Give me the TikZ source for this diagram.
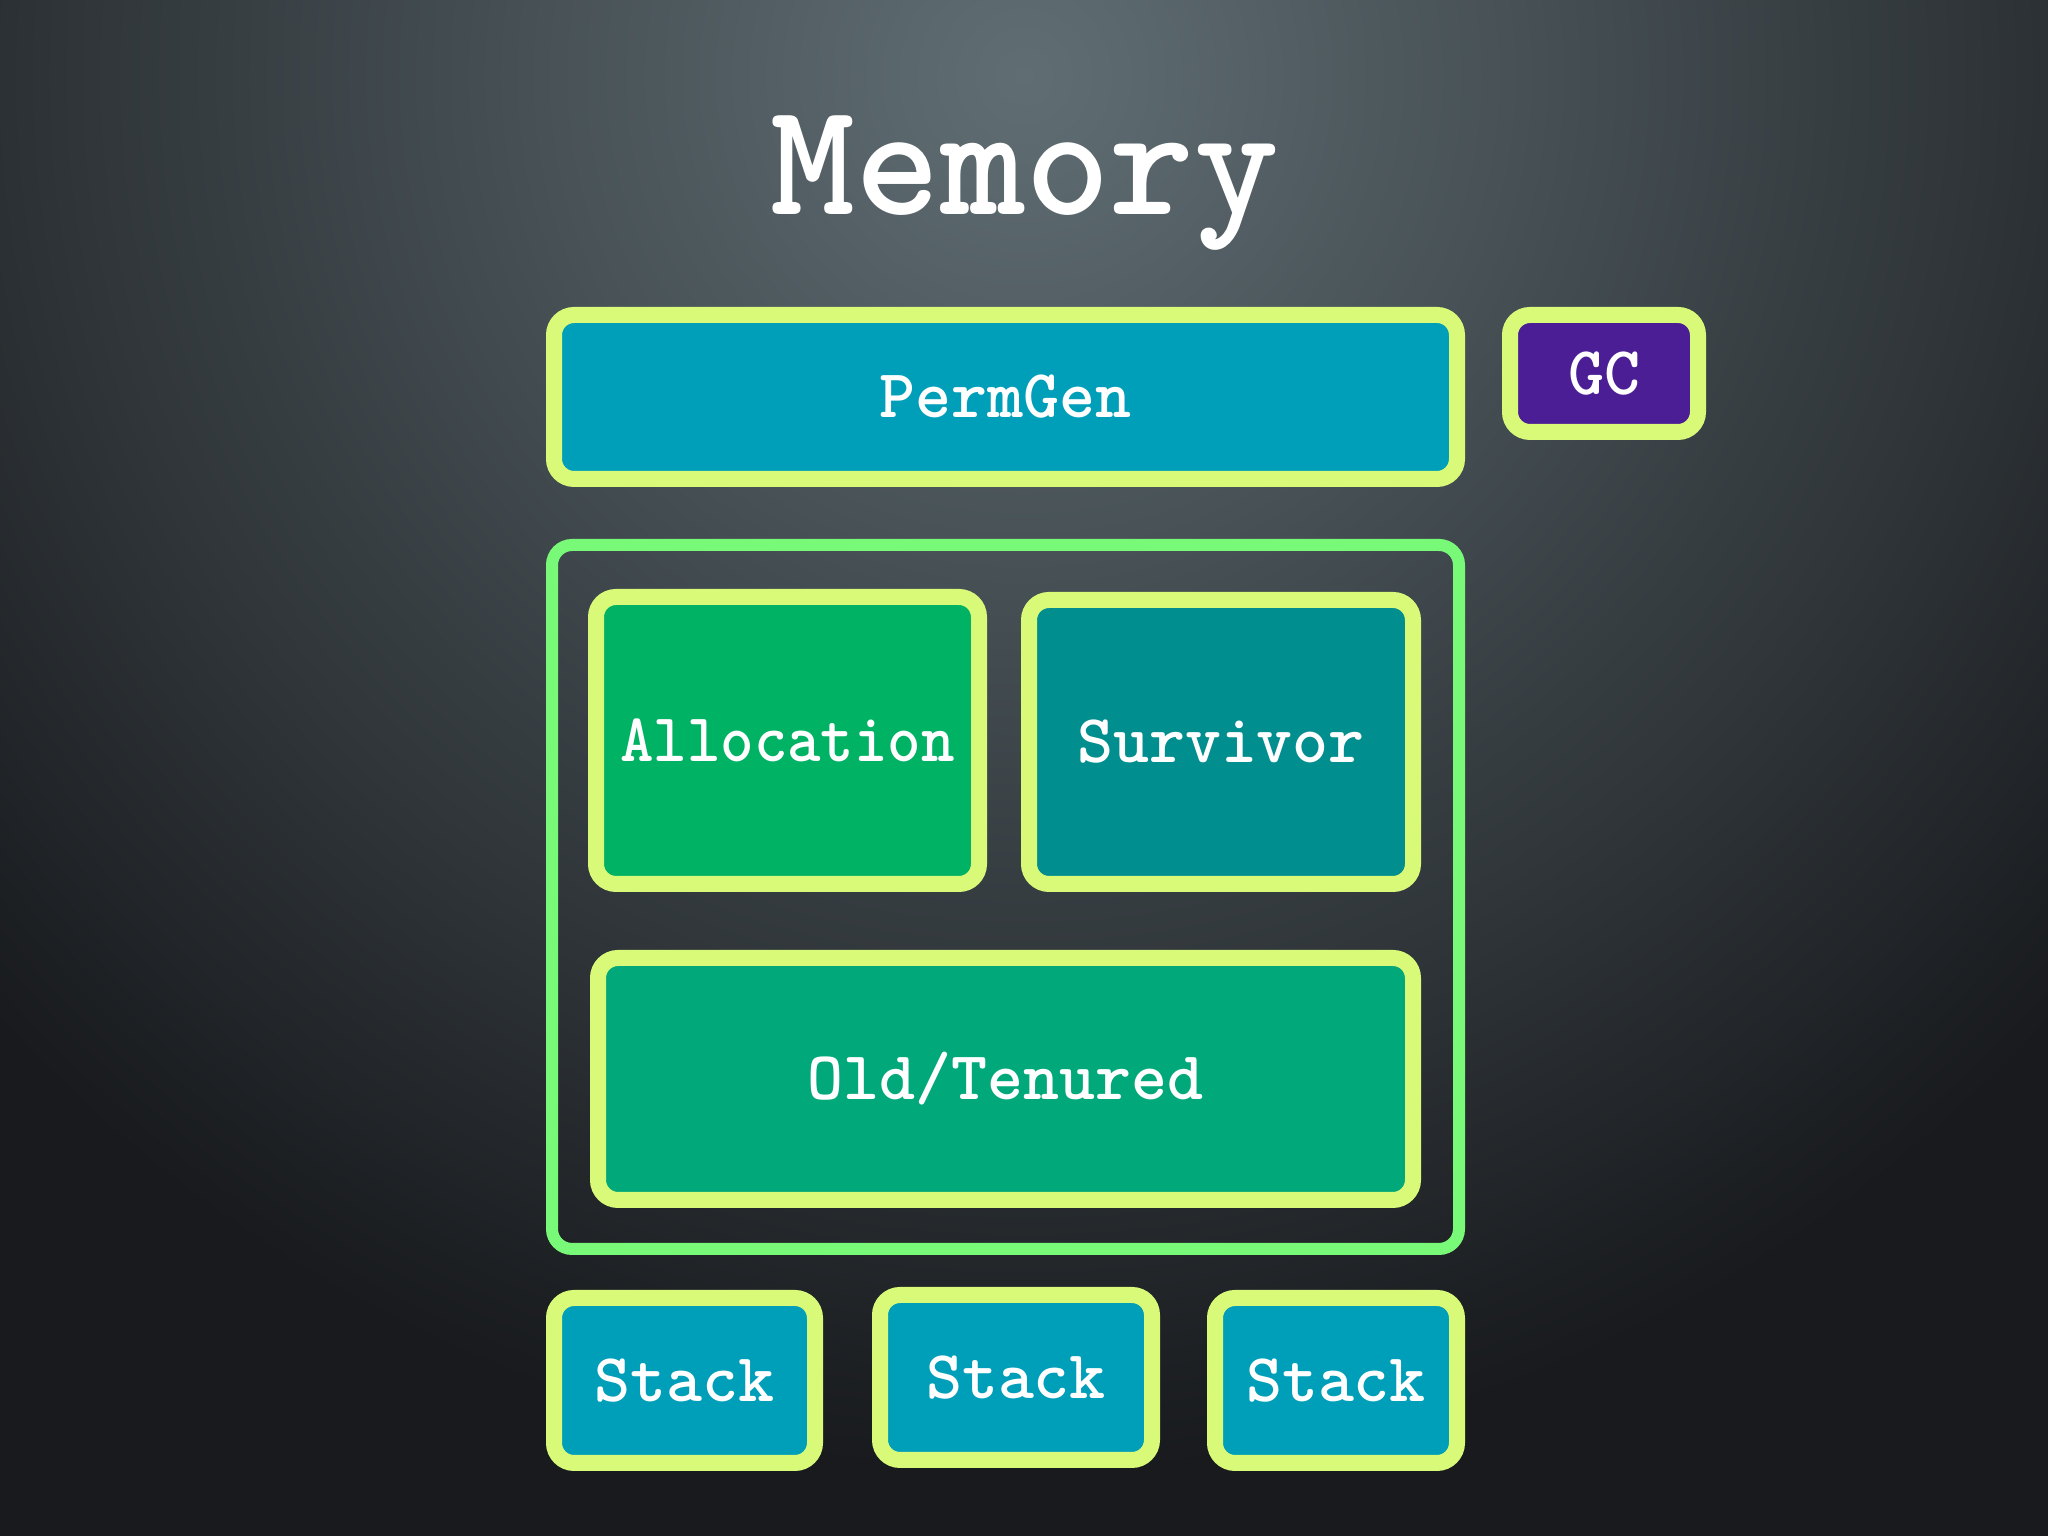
\documentclass[tikz,border=0pt]{standalone}
\usepackage{fontspec}
\definecolor{bgdark}{RGB}{24,26,29}
\definecolor{bglight}{RGB}{96,110,116}
\definecolor{rim}{RGB}{216,250,120}
\definecolor{heaprim}{RGB}{120,250,120}
\definecolor{permcol}{RGB}{0,159,185}
\definecolor{gccol}{RGB}{76,30,150}
\definecolor{alloccol}{RGB}{0,178,100}
\definecolor{survcol}{RGB}{0,142,142}
\definecolor{oldcol}{RGB}{0,168,122}
\begin{document}
\begin{tikzpicture}[
    box/.style={draw=rim, line width=0.16cm, rounded corners=0.2cm, inner sep=0pt,
        text=white, font=\ttfamily\bfseries\fontsize{19.5}{24}\selectfont},
    heap/.style={draw=heaprim, line width=0.12cm, rounded corners=0.2cm, inner sep=0pt}
]
            % background
            \useasboundingbox (0,0) rectangle (20.48,15.36);
            \fill[bgdark] (0,0) rectangle (20.48,15.36);
            \begin{scope}
                \clip (0,0) rectangle (20.48,15.36);
                \shade[inner color=bglight, outer color=bgdark] (10.24,14.6) circle (14);
            \end{scope}

            \node[anchor=base, text=white, font=\ttfamily\bfseries\fontsize{46}{50}\selectfont] (title) at (10.25,13.21) {Memory};

            \node[box, fill=permcol, minimum width=9.03cm, minimum height=1.64cm] (permgen) at (10.055,11.39) {PermGen};
            \node[box, fill=gccol, minimum width=1.88cm, minimum height=1.17cm] (gc) at (16.04,11.625) {GC};

            \node[heap, minimum width=9.07cm, minimum height=7.04cm] (young) at (10.055,6.39) {};
            \node[box, fill=alloccol, minimum width=3.83cm, minimum height=2.87cm] (alloc) at (7.875,7.955) {\scalebox{0.93}[1]{Allocation}};
            \node[box, fill=survcol, minimum width=3.84cm, minimum height=2.84cm] (surv) at (12.21,7.94) {Survivor};
            \node[box, fill=oldcol, minimum width=8.15cm, minimum height=2.42cm] (old) at (10.055,4.57) {Old/Tenured};

            \node[box, fill=permcol, minimum width=2.61cm, minimum height=1.65cm] (stackA) at (6.845,1.555) {Stack};
            \node[box, fill=permcol, minimum width=2.72cm, minimum height=1.65cm] (stackB) at (10.16,1.585) {Stack};
            \node[box, fill=permcol, minimum width=2.42cm, minimum height=1.65cm] (stackC) at (13.36,1.555) {Stack};
\end{tikzpicture}
\end{document}
